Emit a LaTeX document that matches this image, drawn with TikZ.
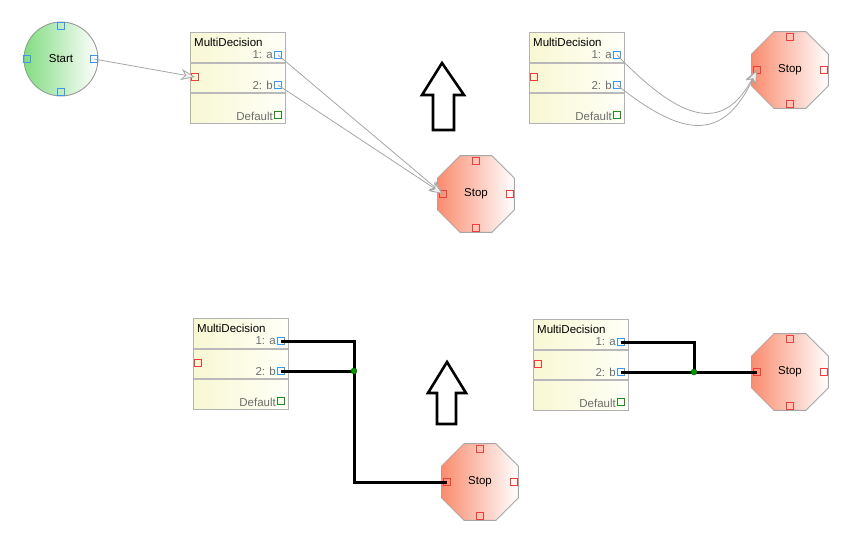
\documentclass[tikz,border=0pt]{standalone}
\usepackage{fontspec}
\setmainfont{Liberation Sans}
\usetikzlibrary{arrows.meta,calc,shapes.geometric}

\definecolor{startgreen}{RGB}{130,220,130}
\definecolor{stopred}{RGB}{250,140,110}
\definecolor{boxcream}{RGB}{248,248,212}
\definecolor{portblue}{RGB}{60,150,240}
\definecolor{portred}{RGB}{240,60,60}
\definecolor{portgreen}{RGB}{30,140,30}
\definecolor{labelgray}{RGB}{110,110,110}

\begin{document}
\begin{tikzpicture}[
    x=1pt, y=-1pt,
    every node/.style={font=\fontsize{11.5}{13}\selectfont},
    startnode/.style={circle, draw=gray!80, line width=0.9pt, minimum size=74pt, inner sep=0pt, left color=startgreen, right color=white},
    stopnode/.style={regular polygon, regular polygon sides=8, draw=gray!70, line width=0.9pt, minimum size=83pt, inner sep=0pt, left color=stopred, right color=white},
    mdbox/.style={rectangle, draw=gray!60, line width=1.4pt, minimum width=95pt, minimum height=91pt, inner sep=0pt, anchor=north west, left color=boxcream, right color=white!97!yellow},
    sep/.style={gray!55, line width=1.4pt},
    port/.style={rectangle, draw, line width=1.3pt, minimum size=7.5pt, inner sep=0pt},
    plabel/.style={anchor=east, text=labelgray, inner sep=0pt},
    flow/.style={gray!70, line width=0.8pt, -{Stealth[length=14pt, width=11pt, inset=4pt, fill=gray!12]}},
    wire/.style={black, line width=3pt},
    junction/.style={circle, draw=green!35!black, fill=green!60!black, minimum size=6pt, inner sep=0pt},
    bigarrow/.style={draw=black, line width=2.6pt, line join=miter}
]
\useasboundingbox (0,0) rectangle (860,538);

% start
\node[startnode] (start) at (61,59) {Start};
\node[port, draw=portblue] (start-n) at ($(start)+(0,-33)$) {};
\node[port, draw=portblue] (start-w) at ($(start)+(-34,0)$) {};
\node[port, draw=portblue] (start-e) at ($(start)+(33,0)$) {};
\node[port, draw=portblue] (start-s) at ($(start)+(0,33)$) {};

% multi decision boxes
\foreach \n/\x/\y in {1/190/32, 2/529/32, 3/193/318, 4/533/319}{
  \node[mdbox] (md\n) at (\x,\y) {};
  \draw[sep] (\x,\y+31) -- (\x+95,\y+31);
  \draw[sep] (\x,\y+61) -- (\x+95,\y+61);
  \node[anchor=west, inner sep=0pt] (md\n-title) at (\x+4,\y+10) {MultiDecision};
  \node[plabel] (md\n-la) at (\x+83,\y+23) {1: a};
  \node[plabel] (md\n-lb) at (\x+83,\y+53) {2: b};
  \node[plabel] (md\n-ld) at (\x+83,\y+84) {Default};
  \node[port, draw=portblue] (md\n-a) at (\x+88,\y+23) {};
  \node[port, draw=portblue] (md\n-b) at (\x+88,\y+53) {};
  \node[port, draw=portred] (md\n-in) at (\x+5,\y+45) {};
  \node[port, draw=portgreen] (md\n-def) at (\x+88,\y+83) {};
}

% stops
\foreach \n/\x/\y in {1/476/194, 2/790/70, 3/480/482, 4/790/372}{
  \node[stopnode] (stop\n) at (\x,\y) {Stop};
  \node[port, draw=portred] (stop\n-n) at ($(stop\n)+(0,-33)$) {};
  \node[port, draw=portred] (stop\n-w) at ($(stop\n)+(-33,0)$) {};
  \node[port, draw=portred] (stop\n-e) at ($(stop\n)+(34,0)$) {};
  \node[port, draw=portred] (stop\n-s) at ($(stop\n)+(0,34)$) {};
}

% top connectors
\draw[flow] (start-e.center) -- (md1-in.center);
\draw[flow] (md1-a.center) -- (stop1-w.center);
\draw[flow] (md1-b.center) -- (stop1-w.center);
\draw[flow] (md2-a.center) .. controls +(63,65) and +(-35,65) .. (stop2-w.center);
\draw[flow] (md2-b.center) .. controls +(63,50) and +(-35,75) .. (stop2-w.center);

% bottom wires
\coordinate (j3) at (354,371);
\coordinate (j4) at (694,372);
\draw[wire] (md3-a.center) -| (j3);
\draw[wire] (md3-b.center) -- (j3) |- (stop3-w.center);
\draw[wire] (md4-a.center) -| (j4);
\draw[wire] (md4-b.center) -- (j4) -- (stop4-w.center);
\node[junction] (dot3) at (j3) {};
\node[junction] (dot4) at (j4) {};

% up arrows
\draw[bigarrow] (433,130) -- (433,95) -- (422,95) -- (442,63) -- (464,95) -- (454,95) -- (454,130) -- cycle;
\draw[bigarrow] (437,424) -- (437,393) -- (428,393) -- (447,362) -- (466,393) -- (456,393) -- (456,424) -- cycle;
\end{tikzpicture}
\end{document}
